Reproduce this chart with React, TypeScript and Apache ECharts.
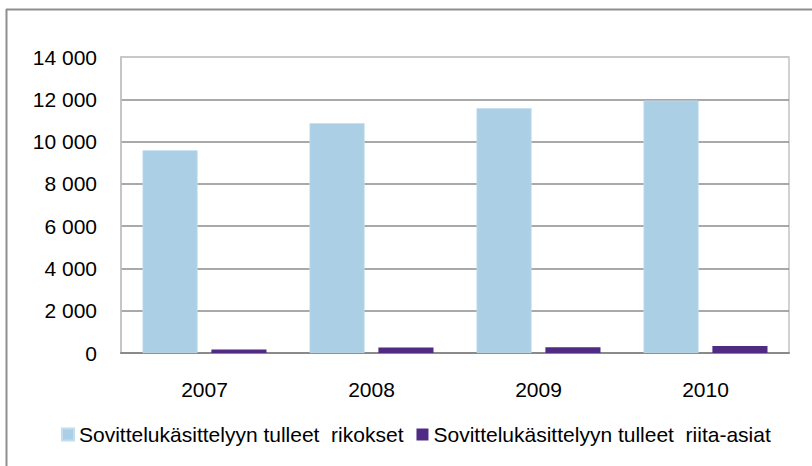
import React, { useEffect, useRef } from "react";
import * as echarts from "echarts";

const years = ["2007", "2008", "2009", "2010"];
const rikokset = [9590, 10870, 11580, 11940];
const riitaAsiat = [170, 255, 270, 330];
const seriesNames = [
  "Sovittelukäsittelyyn tulleet  rikokset",
  "Sovittelukäsittelyyn tulleet  riita-asiat",
];
const yTicks = { min: 0, max: 14000, interval: 2000 };

const FONT = "'Liberation Sans', Arial, sans-serif";

function fmt(v: number): string {
  return String(v).replace(/\B(?=(\d{3})+(?!\d))/g, " ");
}

export default function App() {
  const ref = useRef<HTMLDivElement>(null);
  useEffect(() => {
    if (!ref.current) return;
    const chart = echarts.init(ref.current, null, { renderer: "svg" });
    chart.setOption({
      animation: false,
      backgroundColor: "#ffffff",
      textStyle: { fontFamily: FONT },
      grid: {
        left: 121,
        right: 23,
        top: 57,
        bottom: 113,
        show: true,
        borderColor: "#c4c4c4",
        borderWidth: 1.5,
        outerBoundsMode: "none",
        containLabel: false,
      },
      legend: {
        left: 61,
        top: 424,
        padding: 0,
        itemWidth: 12,
        itemHeight: 12,
        itemGap: 13,
        icon: "rect",
        textStyle: { fontSize: 21, color: "#000", fontFamily: FONT },
        data: seriesNames,
      },
      xAxis: {
        type: "category",
        data: years,
        axisTick: { show: false },
        axisLine: { lineStyle: { color: "#8a8a8a", width: 2 } },
        axisLabel: { fontSize: 21, color: "#000", margin: 26, fontFamily: FONT },
      },
      yAxis: {
        type: "value",
        min: yTicks.min,
        max: yTicks.max,
        interval: yTicks.interval,
        axisLine: { show: true, lineStyle: { color: "#c0c0c0", width: 1.5 } },
        axisTick: { show: false },
        axisLabel: {
          fontSize: 21,
          color: "#000",
          margin: 24,
          fontFamily: FONT,
          formatter: (v: number) => fmt(v),
        },
        splitLine: {
          show: true,
          lineStyle: {
            color: ["#8c8c8c", "#8c8c8c", "#8c8c8c", "#8c8c8c", "#8c8c8c", "#8c8c8c", "#8c8c8c", "#c4c4c4"],
            width: 1.5,
          },
        },
      },
      series: [
        {
          name: seriesNames[0],
          type: "bar",
          data: rikokset,
          barWidth: "33%",
          barGap: "25%",
          itemStyle: { color: "#abcfe5", borderColor: "#c2ddee", borderWidth: 0.8 },
        },
        {
          name: seriesNames[1],
          type: "bar",
          data: riitaAsiat,
          barWidth: "33%",
          barGap: "25%",
          itemStyle: { color: "#4f2b84" },
        },
      ],
      graphic: [
        {
          type: "line",
          shape: { x1: 6, y1: 9.5, x2: 812, y2: 9.5 },
          style: { stroke: "#8f8f8f", lineWidth: 2 },
        },
        {
          type: "line",
          shape: { x1: 6.5, y1: 9, x2: 6.5, y2: 466 },
          style: { stroke: "#8f8f8f", lineWidth: 2 },
        },
      ],
    });
    return () => chart.dispose();
  }, []);
  return (
    <div
      ref={ref}
      style={{ position: "absolute", left: 0, top: 0, width: 812, height: 466 }}
    />
  );
}
